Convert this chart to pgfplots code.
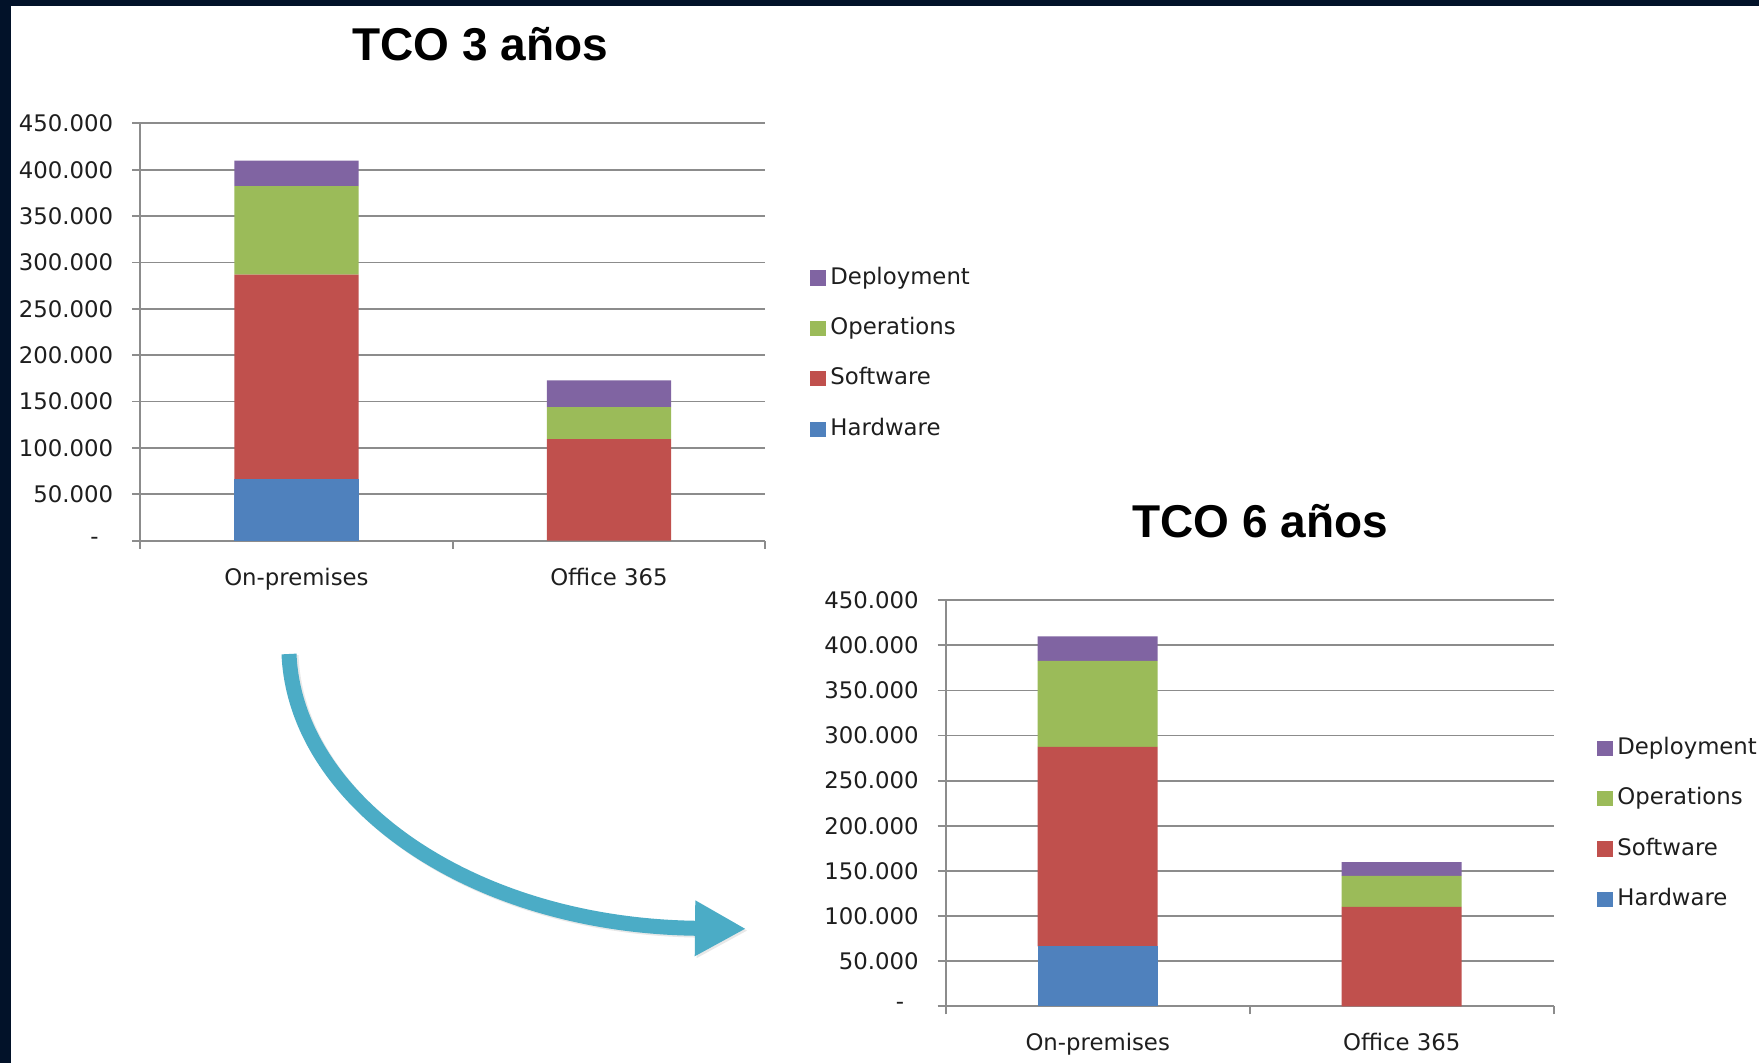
\documentclass[border=0pt]{standalone}
\usepackage{pgfplots}
\pgfplotsset{compat=1.18}
\usepackage{fontspec}
\setmainfont{DejaVu Sans}
\newfontfamily\titlefont{Liberation Sans}
\usetikzlibrary{arrows.meta}
\definecolor{hw}{HTML}{4F81BD}
\definecolor{sw}{HTML}{C0504D}
\definecolor{ops}{HTML}{9BBB59}
\definecolor{dep}{HTML}{8064A2}
\definecolor{gridgray}{HTML}{8C8C8C}
\definecolor{navy}{HTML}{021229}
\definecolor{arrowc}{HTML}{4BACC6}
\definecolor{textc}{HTML}{1E1E1E}
\pgfplotsset{
  tcostyle/.style={
    scale only axis,
    axis x line*=bottom, axis y line*=left,
    axis line style={draw=gridgray, line width=0.9pt},
    ybar stacked,
    xmin=-0.5, xmax=1.5, ymin=0, ymax=450000,
    xtick={-0.5,0.5,1.5}, xticklabels={},
    extra x ticks={0,1},
    extra x tick labels={On-premises,Office 365},
    extra x tick style={major tick length=0pt, xticklabel style={yshift=-10pt}},
    ytick={0,50000,...,450000},
    scaled y ticks=false,
    yticklabels={-\hphantom{0},50.000,100.000,150.000,200.000,250.000,300.000,350.000,400.000,450.000},
    yticklabel style={xshift=-6pt},
    ymajorgrids,
    grid style={draw=gridgray, line width=0.9pt},
    tick style={draw=gridgray, line width=0.9pt},
    tick align=outside, major tick length=4pt,
    tick label style={font=\fontsize{11.4}{13}\selectfont, text=textc},
    reverse legend,
    legend style={draw=none, fill=none, inner sep=0pt, anchor=west,
      font=\fontsize{11.4}{13}\selectfont, text=textc,
      row sep=14.0pt,
      nodes={inner xsep=2pt, inner ysep=0pt, text height=8.6pt, text depth=2.6pt}},
    legend cell align=left,
    legend image code/.code={\fill[##1, draw=none] (0pt,-3.7pt) rectangle (8pt,3.9pt);},
    title style={anchor=center, font=\titlefont\bfseries\fontsize{23}{27}\selectfont, text=black},
  }
}
\begin{document}
\begin{tikzpicture}
\useasboundingbox (0,0) rectangle (879.5pt,531.5pt);
\fill[navy] (0,0) rectangle (879.5pt,531.5pt);
\fill[white] (5.5pt,0) rectangle (879.5pt,528.7pt);

% arrow
\draw[line width=7.5pt, gray!18, -{Triangle[length=25.5pt,width=26pt]}]
  (145.5pt,203.8pt) .. controls (148.5pt,130.5pt) and (235.8pt,67.6pt) .. (374pt,66.2pt);
\draw[line width=7.5pt, arrowc, -{Triangle[length=25.5pt,width=26pt]}]
  (144.5pt,204.5pt) .. controls (147.5pt,131.5pt) and (235pt,68.5pt) .. (373pt,67.1pt);

% Chart 1
\begin{axis}[tcostyle,
  at={(70.1pt,261.15pt)}, anchor=south west,
  width=312.5pt, height=208.65pt,
  bar width=62.2pt,
  title={TCO 3 años},
  title style={at={(0.5437,1.161)}},
  legend style={at={(1.0717,0.448)}},
]
\addplot[fill=hw, draw=none] coordinates {(0,66400) (1,0)};
\addplot[fill=sw, draw=none] coordinates {(0,220600) (1,109500)};
\addplot[fill=ops, draw=none] coordinates {(0,95400) (1,34400)};
\addplot[fill=dep, draw=none] coordinates {(0,27400) (1,29000)};
\legend{Hardware,Software,Operations,Deployment}
\end{axis}

% Chart 2
\begin{axis}[tcostyle,
  at={(472.85pt,28.35pt)}, anchor=south west,
  width=304pt, height=203.05pt,
  bar width=60pt,
  title={TCO 6 años},
  title style={at={(0.517,1.166)}},
  legend style={at={(1.0712,0.449)}},
]
\addplot[fill=hw, draw=none] coordinates {(0,66500) (1,0)};
\addplot[fill=sw, draw=none] coordinates {(0,220900) (1,110200)};
\addplot[fill=ops, draw=none] coordinates {(0,95300) (1,34300)};
\addplot[fill=dep, draw=none] coordinates {(0,27300) (1,15300)};
\legend{Hardware,Software,Operations,Deployment}
\end{axis}
\end{tikzpicture}
\end{document}
